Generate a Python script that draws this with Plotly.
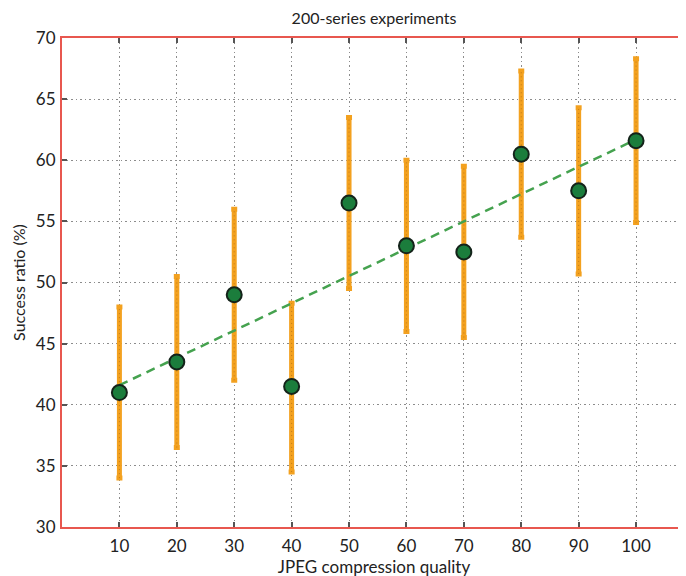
import plotly.graph_objects as go

quality = [10, 20, 30, 40, 50, 60, 70, 80, 90, 100]
success = [41.0, 43.5, 49.0, 41.5, 56.5, 53.0, 52.5, 60.5, 57.5, 61.6]
err_plus = [7.0, 7.0, 7.0, 6.8, 7.0, 7.0, 7.0, 6.8, 6.8, 6.7]
err_minus = [7.0, 7.0, 7.0, 7.0, 7.0, 7.0, 7.0, 6.8, 6.8, 6.7]
trend_x = [10, 100]
trend_y = [41.6, 61.7]
x_ticks = [10, 20, 30, 40, 50, 60, 70, 80, 90, 100]
y_ticks = [30, 35, 40, 45, 50, 55, 60, 65, 70]

FONT = "Lato, 'Open Sans', sans-serif"
RED = "#e8574f"
ORANGE = "#f3a11f"

fig = go.Figure()

# error bars
fig.add_trace(go.Scatter(
    x=quality, y=success, mode="markers",
    marker=dict(size=1, color="rgba(0,0,0,0)"),
    error_y=dict(type="data", symmetric=False, array=err_plus, arrayminus=err_minus,
                 color=ORANGE, thickness=5, width=3),
    showlegend=False, hoverinfo="skip"))

# dotted texture on bars (grid showing through)
seg_x, seg_y = [], []
for xv, yv, ep, em in zip(quality, success, err_plus, err_minus):
    seg_x += [xv, xv, None]
    seg_y += [yv - em, yv + ep, None]
fig.add_trace(go.Scatter(
    x=seg_x, y=seg_y, mode="lines",
    line=dict(color="rgba(150,90,20,0.5)", width=1, dash="1px,3px"),
    showlegend=False, hoverinfo="skip"))

# trend line
fig.add_trace(go.Scatter(
    x=trend_x, y=trend_y, mode="lines",
    line=dict(color="#45a24f", width=2.5, dash="9px,6px"),
    showlegend=False))

# markers
fig.add_trace(go.Scatter(
    x=quality, y=success, mode="markers",
    marker=dict(size=15, color="#1b7d3c", line=dict(color="#14231a", width=2)),
    showlegend=False))

fig.update_layout(
    width=686, height=576,
    margin=dict(l=54, r=8, t=30, b=57, autoexpand=False),
    paper_bgcolor="white", plot_bgcolor="white",
    font=dict(family=FONT, color="#222222"),
    title=dict(text="200-series experiments", x=(62 + 686) / 2 / 686 - 8 / 686, xanchor="center",
               y=1 - 10 / 576, yanchor="middle",
               font=dict(family=FONT, size=16, color="#222222")),
)

fig.update_xaxes(
    range=[0, 108.7], tickvals=x_ticks, ticktext=[str(v) for v in x_ticks],
    showline=True, linecolor=RED, linewidth=2, mirror="ticks",
    ticks="inside", ticklen=5, tickwidth=2, tickcolor="#555555",
    showgrid=True, gridcolor="#8c8c8c", griddash="1.5px,3px", gridwidth=1,
    zeroline=False, tickfont=dict(size=17, color="#222222"),
    ticklabelstandoff=3,
    title=dict(text="JPEG compression quality", font=dict(size=17, color="#222222"), standoff=0),
)
fig.update_yaxes(
    range=[30, 70], tickvals=y_ticks, ticktext=[str(v) for v in y_ticks],
    showline=True, linecolor=RED, linewidth=2, mirror=False,
    ticks="inside", ticklen=5, tickwidth=2, tickcolor="#555555",
    showgrid=True, gridcolor="#8c8c8c", griddash="1.5px,3px", gridwidth=1,
    zeroline=False, tickfont=dict(size=17, color="#222222"),
    ticklabelstandoff=1,
    title=dict(text="Success ratio (%)", font=dict(size=16, color="#222222"), standoff=6),
)

fig.write_html("out.html")
